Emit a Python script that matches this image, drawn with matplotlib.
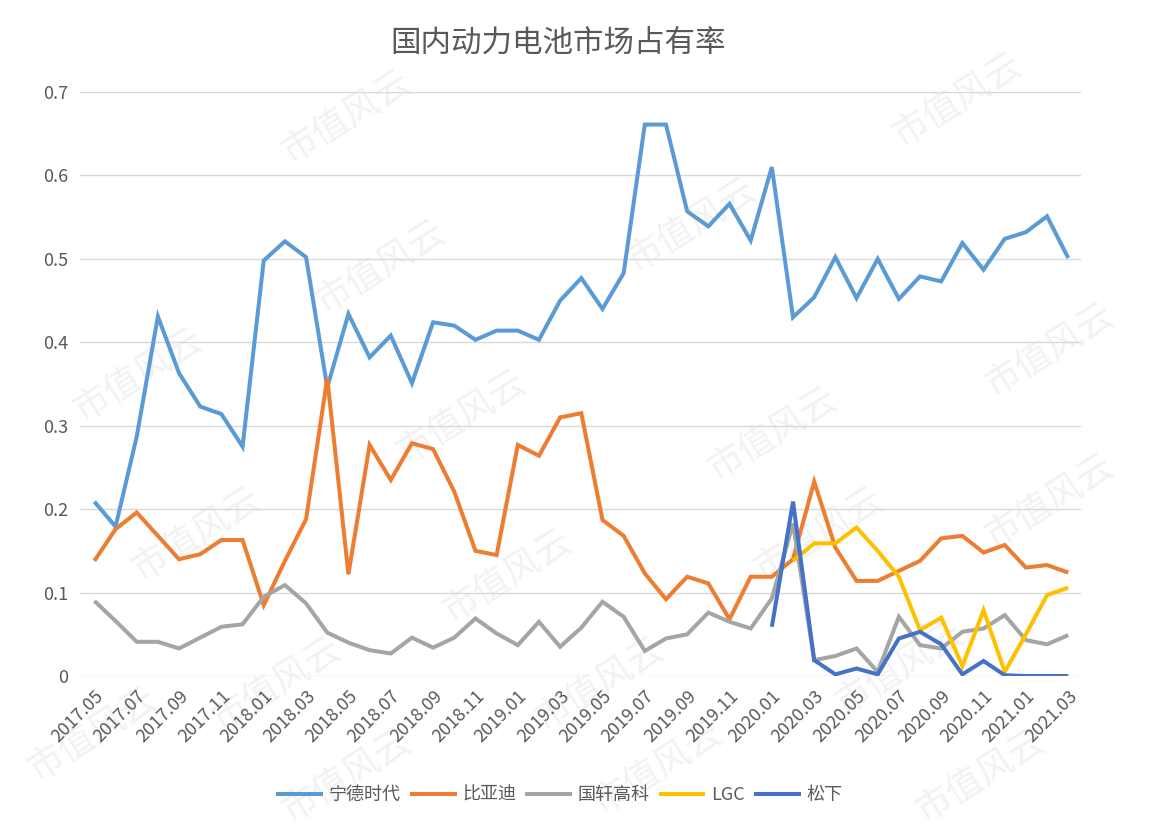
import matplotlib
matplotlib.use('Agg')
import matplotlib.pyplot as plt

plt.rcParams['font.family'] = ['Noto Sans CJK SC', 'DejaVu Sans']

# months 2017.05 .. 2021.03
months = []
y, m = 2017, 5
while (y, m) <= (2021, 3):
    months.append(f"{y}.{m:02d}")
    m += 1
    if m > 12:
        y, m = y + 1, 1

catl = [0.209, 0.179, 0.287, 0.431, 0.363, 0.323, 0.314, 0.275, 0.498, 0.521,
        0.502, 0.346, 0.434, 0.382, 0.408, 0.351, 0.424, 0.420, 0.403, 0.414,
        0.414, 0.403, 0.450, 0.477, 0.440, 0.483, 0.661, 0.661, 0.557, 0.539,
        0.566, 0.522, 0.610, 0.430, 0.454, 0.502, 0.453, 0.500, 0.452, 0.479,
        0.473, 0.519, 0.487, 0.524, 0.532, 0.551, 0.501]
byd = [0.138, 0.176, 0.196, 0.168, 0.140, 0.146, 0.163, 0.163, 0.085, 0.138,
       0.188, 0.357, 0.122, 0.277, 0.235, 0.279, 0.272, 0.221, 0.150, 0.145,
       0.277, 0.264, 0.310, 0.315, 0.187, 0.168, 0.123, 0.092, 0.119, 0.111,
       0.068, 0.119, 0.119, 0.140, 0.233, 0.154, 0.114, 0.114, 0.126, 0.138,
       0.165, 0.168, 0.148, 0.157, 0.130, 0.133, 0.124]
gotion = [0.090, 0.066, 0.041, 0.041, 0.033, 0.046, 0.059, 0.062, 0.095, 0.109,
          0.087, 0.052, 0.040, 0.031, 0.027, 0.046, 0.034, 0.046, 0.069, 0.051,
          0.037, 0.065, 0.035, 0.058, 0.089, 0.071, 0.030, 0.045, 0.050, 0.076,
          0.065, 0.057, 0.093, 0.183, 0.019, 0.024, 0.033, 0.005, 0.071, 0.037,
          0.033, 0.053, 0.057, 0.073, 0.043, 0.038, 0.049]
# LGC and Panasonic only have data from 2020
lgc_start = 33
lgc = [0.138, 0.159, 0.159, 0.178, 0.150, 0.119, 0.055, 0.070, 0.012, 0.079,
       0.005, 0.050, 0.097, 0.106]
pana_start = 32
panasonic = [0.059, 0.209, 0.019, 0.002, 0.009, 0.002, 0.045, 0.053, 0.038, 0.002,
             0.018, 0.001, 0.0, 0.0, 0.0]

series = [
    ('宁德时代', list(range(len(catl))), catl, '#5B9BD5'),
    ('比亚迪', list(range(len(byd))), byd, '#ED7D31'),
    ('国轩高科', list(range(len(gotion))), gotion, '#A5A5A5'),
    ('LGC', list(range(lgc_start, lgc_start + len(lgc))), lgc, '#FFC000'),
    ('松下', list(range(pana_start, pana_start + len(panasonic))), panasonic, '#4472C4'),
]

fig = plt.figure(figsize=(11.53, 8.35), dpi=100)
ax = fig.add_axes([0.069, 0.1904, 0.8685, 0.6994])
ax.patch.set_alpha(0)

# faint watermark behind everything
for wx, wy in [(0.30, 0.86), (0.83, 0.88), (0.33, 0.68), (0.60, 0.73),
               (0.12, 0.55), (0.40, 0.50), (0.67, 0.48), (0.91, 0.58),
               (0.17, 0.36), (0.44, 0.31), (0.71, 0.36), (0.91, 0.40),
               (0.24, 0.18), (0.52, 0.18), (0.78, 0.20), (0.30, 0.07),
               (0.57, 0.08), (0.85, 0.07), (0.08, 0.12)]:
    fig.text(wx, wy, '市值风云', fontsize=26, color='#f2f2f2', rotation=32,
             ha='center', va='center', zorder=-5)

for name, xs, vals, color in series:
    ax.plot(xs, vals, color=color, lw=2.9, label=name, solid_joinstyle='miter',
            solid_capstyle='butt', zorder=3)

ax.set_xlim(-0.7, len(months) - 0.4)
ax.set_ylim(0, 0.7)
ax.set_yticks([0, 0.1, 0.2, 0.3, 0.4, 0.5, 0.6, 0.7])
ax.set_yticklabels(['0', '0.1', '0.2', '0.3', '0.4', '0.5', '0.6', '0.7'])
ax.grid(axis='y', color='#d9d9d9', lw=1)
ax.set_axisbelow(True)
for s in ax.spines.values():
    s.set_visible(False)

ticks = list(range(0, len(months), 2))
ax.set_xticks(ticks)
ax.set_xticklabels([months[i] for i in ticks], rotation=45, ha='right',
                   rotation_mode='anchor')
ax.tick_params(axis='both', length=0, colors='#595959', labelsize=13)
ax.tick_params(axis='x', pad=8)
ax.tick_params(axis='y', pad=8)

fig.text(0.484, 0.948, '国内动力电池市场占有率', ha='center', va='center',
         fontsize=22, color='#595959')

fig.legend(loc='center', bbox_to_anchor=(0.485, 0.048), ncol=5, frameon=False,
           fontsize=13, handlelength=2.6, handletextpad=0.3, columnspacing=0.5,
           labelcolor='#595959')

fig.savefig('out.png', dpi=100)
